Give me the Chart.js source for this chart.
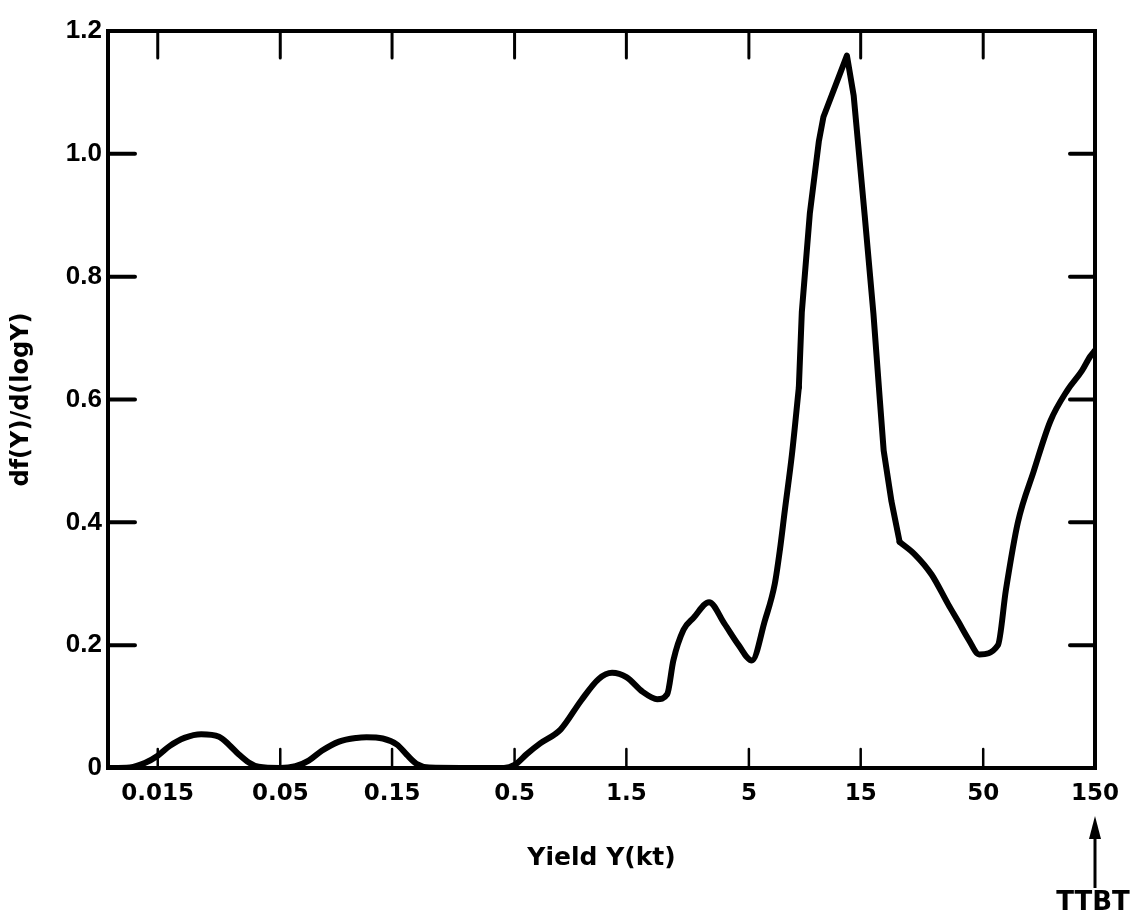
<!DOCTYPE html>
<html>
<head>
<meta charset="utf-8">
<script src="https://cdn.jsdelivr.net/npm/chart.js@4.4.0/dist/chart.umd.min.js"></script>
<style>
  html, body { margin: 0; padding: 0; background: #fff; }
  #wrap { width: 1136px; height: 918px; }
</style>
</head>
<body>
<div id="wrap"><canvas id="c" width="1136" height="918"></canvas></div>
<script>
// ---- data ----
const xTickValues = [0.015, 0.05, 0.15, 0.5, 1.5, 5, 15, 50, 150];
const xTickLabels = ['0.015', '0.05', '0.15', '0.5', '1.5', '5', '15', '50', '150'];
const yTickValues = [0, 0.2, 0.4, 0.6, 0.8, 1.0, 1.2];
const yTickLabels = ['0', '0.2', '0.4', '0.6', '0.8', '1.0', '1.2'];

const yieldKt = [0.0092, 0.0114, 0.0132, 0.015, 0.0169, 0.0195, 0.023, 0.0274, 0.0302, 0.0333,
  0.0367, 0.0404, 0.05, 0.0581, 0.0661, 0.0752, 0.0891, 0.1056, 0.1167, 0.1369,
  0.1575, 0.173, 0.1905, 0.216, 0.45, 0.5, 0.565, 0.643, 0.787, 0.962,
  1.143, 1.303, 1.5, 1.762, 2.03, 2.24, 2.38, 2.63, 2.91, 3.38,
  3.93, 4.52, 5.15, 5.85, 6.45, 6.78, 7.12, 7.63, 8.17, 8.41,
  9.1, 9.94, 10.4, 13.1, 14.0, 15.6, 17.0, 18.1, 18.8, 20.3,
  22.0, 25.5, 30.1, 35.5, 39.2, 43.2, 48.1, 57.8, 62.5, 70.3,
  82.1, 96.8, 114.3, 132, 143, 150];
const density = [0, 0.001, 0.008, 0.02, 0.036, 0.049, 0.055, 0.051, 0.038, 0.022,
  0.009, 0.002, 0, 0.003, 0.012, 0.028, 0.043, 0.049, 0.05, 0.048,
  0.038, 0.022, 0.007, 0.001, 0, 0.005, 0.023, 0.04, 0.063, 0.11,
  0.145, 0.155, 0.148, 0.124, 0.112, 0.12, 0.175, 0.225, 0.245, 0.27,
  0.235, 0.2, 0.175, 0.24, 0.30, 0.355, 0.42, 0.51, 0.62, 0.742,
  0.903, 1.02, 1.06, 1.16, 1.095, 0.9, 0.74, 0.6, 0.517, 0.434,
  0.368, 0.348, 0.315, 0.266, 0.238, 0.21, 0.185, 0.2, 0.29, 0.4,
  0.483, 0.565, 0.615, 0.647, 0.67, 0.68];

// the main peak is drawn with straight segments (sharp tip), the rest smooth
const peakFrom = 8.17;
const peakTo = 22.0;

const xTitle = 'Yield Y(kt)';
const yTitle = 'df(Y)/d(logY)';
const arrowLabel = 'TTBT';
const arrowAt = 150;

// ---- frame, inward ticks and annotation ----
const framePlugin = {
  id: 'frame',
  afterDraw(chart) {
    const { ctx, chartArea: { left, right, top, bottom }, scales: { x, y } } = chart;
    ctx.save();
    ctx.strokeStyle = '#000';
    ctx.fillStyle = '#000';
    ctx.lineCap = 'round';
    ctx.lineWidth = 4;
    ctx.strokeRect(left, top, right - left, bottom - top);

    ctx.lineWidth = 4;
    yTickValues.forEach(v => {
      if (v <= y.min || v >= y.max) return;
      const py = y.getPixelForValue(v);
      ctx.beginPath();
      ctx.moveTo(left, py); ctx.lineTo(left + 27, py);
      ctx.moveTo(right, py); ctx.lineTo(right - 25, py);
      ctx.stroke();
    });

    xTickValues.forEach(v => {
      const px = x.getPixelForValue(v);
      if (px >= right - 3) return;
      ctx.lineWidth = 2.5;
      ctx.beginPath(); ctx.moveTo(px, bottom); ctx.lineTo(px, bottom - 19); ctx.stroke();
      ctx.lineWidth = 3;
      ctx.beginPath(); ctx.moveTo(px, top); ctx.lineTo(px, top + 27); ctx.stroke();
    });

    // arrow pointing to the 150 kt label
    const ax = x.getPixelForValue(arrowAt);
    ctx.lineCap = 'butt';
    ctx.lineWidth = 3;
    ctx.beginPath(); ctx.moveTo(ax, 836); ctx.lineTo(ax, 888); ctx.stroke();
    ctx.beginPath();
    ctx.moveTo(ax, 816); ctx.lineTo(ax - 6, 839); ctx.lineTo(ax + 6, 839); ctx.closePath();
    ctx.fill();
    ctx.font = 'bold 26px "DejaVu Sans"';
    ctx.textAlign = 'center';
    ctx.textBaseline = 'alphabetic';
    ctx.fillText(arrowLabel, ax - 2, 910);
    ctx.restore();
  }
};

const points = yieldKt.map((v, i) => ({ x: v, y: density[i] }));
const lowPart = points.filter(p => p.x <= peakFrom);
const peakPart = points.filter(p => p.x >= peakFrom && p.x <= peakTo);
const highPart = points.filter(p => p.x >= peakTo);

const lineStyle = {
  borderColor: '#000',
  borderWidth: 6,
  pointRadius: 0,
  fill: false,
  borderJoinStyle: 'round',
  borderCapStyle: 'round'
};

new Chart(document.getElementById('c'), {
  type: 'line',
  data: {
    datasets: [
      Object.assign({ data: lowPart, cubicInterpolationMode: 'monotone' }, lineStyle),
      Object.assign({ data: peakPart, tension: 0 }, lineStyle),
      Object.assign({ data: highPart, cubicInterpolationMode: 'monotone' }, lineStyle)
    ]
  },
  options: {
    responsive: false,
    animation: false,
    devicePixelRatio: 1,
    layout: { padding: { top: 31, right: 41, left: 0, bottom: 0 } },
    plugins: { legend: { display: false }, tooltip: { enabled: false } },
    scales: {
      x: {
        type: 'logarithmic',
        position: 'bottom',
        min: 0.0092,
        max: 150,
        grid: { display: false, drawTicks: false },
        border: { display: false },
        afterBuildTicks: s => { s.ticks = xTickValues.map(v => ({ value: v })); },
        afterFit: s => { s.height = 150; },
        ticks: {
          autoSkip: false,
          maxRotation: 0,
          minRotation: 0,
          padding: 12,
          color: '#000',
          font: { family: 'DejaVu Sans', weight: 'bold', size: 23 },
          callback: v => xTickLabels[xTickValues.indexOf(v)]
        },
        title: {
          display: true,
          text: xTitle,
          color: '#000',
          font: { family: 'DejaVu Sans', weight: 'bold', size: 25 },
          padding: { top: 0, bottom: 45 }
        }
      },
      y: {
        type: 'linear',
        position: 'left',
        min: 0,
        max: 1.2,
        grid: { display: false, drawTicks: false },
        border: { display: false },
        afterBuildTicks: s => { s.ticks = yTickValues.map(v => ({ value: v })); },
        afterFit: s => { s.width = 108; },
        ticks: {
          padding: 6,
          color: '#000',
          font: { family: 'Liberation Sans', weight: 'bold', size: 26 },
          callback: v => yTickLabels[yTickValues.indexOf(v)]
        },
        title: {
          display: true,
          text: yTitle,
          color: '#000',
          font: { family: 'DejaVu Sans', weight: 'bold', size: 24 },
          padding: { top: 7, bottom: 0 }
        }
      }
    }
  },
  plugins: [framePlugin]
});
</script>
</body>
</html>
